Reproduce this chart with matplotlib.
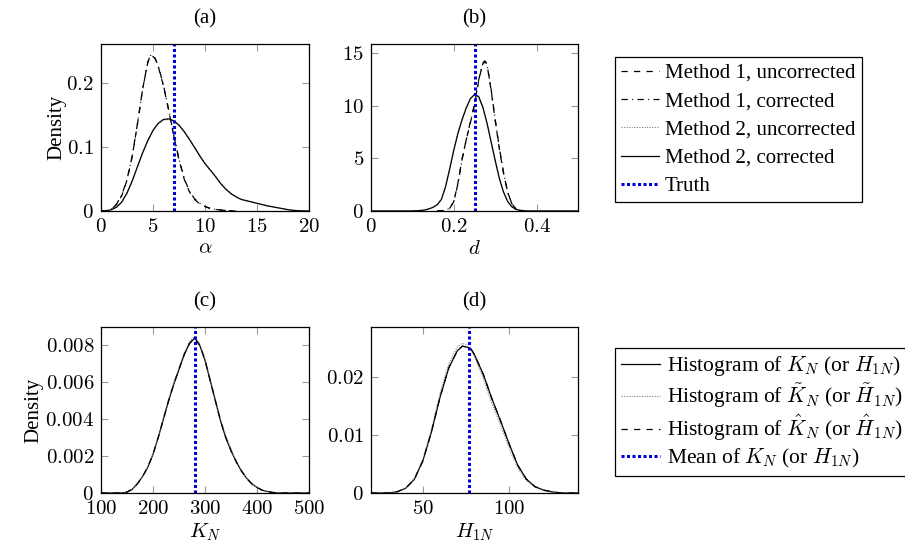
import matplotlib
matplotlib.use('Agg')
import matplotlib.pyplot as plt
from matplotlib.ticker import FuncFormatter, MultipleLocator
from matplotlib.lines import Line2D

plt.rcParams['font.family'] = 'serif'
plt.rcParams['font.serif'] = ['Liberation Serif', 'DejaVu Serif']
plt.rcParams['mathtext.fontset'] = 'cm'
plt.rcParams['font.size'] = 15

# ---- panel (a): alpha ----
a_m1_x = [0, 0.5, 1, 1.5, 2, 2.5, 3, 3.5, 4, 4.5, 4.8, 5.2, 5.5, 6, 6.5, 7, 7.5, 8, 8.5, 9, 9.5, 10, 10.5, 11, 11.5, 12, 12.5, 13]
a_m1_unc = [0, 0.0005, 0.003, 0.01, 0.024, 0.048, 0.085, 0.135, 0.19, 0.233, 0.245, 0.238, 0.226, 0.196, 0.158, 0.117, 0.08, 0.05, 0.03, 0.018, 0.011, 0.007, 0.004, 0.0025, 0.0015, 0.0008, 0.0003, 0]
a_m1_cor = [0, 0.0005, 0.003, 0.011, 0.025, 0.049, 0.086, 0.136, 0.19, 0.232, 0.244, 0.239, 0.227, 0.197, 0.159, 0.118, 0.081, 0.051, 0.031, 0.019, 0.012, 0.007, 0.004, 0.0025, 0.0015, 0.0008, 0.0003, 0]
a_m2_x = [0, 0.5, 1, 1.5, 2, 2.5, 3, 3.5, 4, 4.5, 5, 5.5, 6, 6.5, 7, 7.5, 8, 8.5, 9, 9.5, 10, 10.5, 11, 11.5, 12, 12.5, 13, 13.5, 14, 14.5, 15, 15.5, 16, 16.5, 17, 17.5, 18, 18.5, 19, 19.5, 20]
a_m2_cor = [0, 0.0003, 0.002, 0.006, 0.014, 0.028, 0.047, 0.069, 0.091, 0.11, 0.126, 0.137, 0.143, 0.144, 0.141, 0.134, 0.124, 0.112, 0.099, 0.086, 0.074, 0.064, 0.054, 0.043, 0.034, 0.027, 0.022, 0.018, 0.016, 0.014, 0.012, 0.01, 0.008, 0.0065, 0.005, 0.0035, 0.002, 0.001, 0.0004, 0.0001, 0]
a_m2_unc = [0, 0.0003, 0.002, 0.006, 0.014, 0.028, 0.046, 0.068, 0.09, 0.109, 0.125, 0.136, 0.142, 0.143, 0.141, 0.135, 0.125, 0.113, 0.1, 0.087, 0.075, 0.065, 0.055, 0.044, 0.035, 0.028, 0.022, 0.018, 0.016, 0.014, 0.012, 0.01, 0.008, 0.0065, 0.005, 0.0035, 0.002, 0.001, 0.0004, 0.0001, 0]
a_truth = 7.0

# ---- panel (b): d ----
b_m1_x = [0.16, 0.17, 0.18, 0.19, 0.2, 0.21, 0.22, 0.23, 0.24, 0.25, 0.26, 0.27, 0.275, 0.28, 0.29, 0.3, 0.31, 0.32, 0.33, 0.34, 0.35, 0.36, 0.37]
b_m1_unc = [0, 0.02, 0.08, 0.25, 0.9, 2.7, 5.0, 6.8, 8.4, 10.1, 12.4, 14.1, 14.3, 14.0, 11.5, 8.6, 5.9, 3.6, 1.8, 0.7, 0.2, 0.05, 0]
b_m1_cor = [0, 0.02, 0.08, 0.25, 0.9, 2.6, 4.9, 6.8, 8.5, 10.2, 12.5, 14.0, 14.2, 14.0, 11.6, 8.7, 6.0, 3.7, 1.8, 0.7, 0.2, 0.05, 0]
b_m2_x = [0, 0.08, 0.09, 0.1, 0.11, 0.12, 0.13, 0.14, 0.15, 0.16, 0.17, 0.18, 0.19, 0.2, 0.21, 0.22, 0.23, 0.24, 0.25, 0.26, 0.27, 0.28, 0.29, 0.3, 0.31, 0.32, 0.33, 0.34, 0.35, 0.36, 0.37, 0.38, 0.5]
b_m2_cor = [0, 0, 0, 0.01, 0.02, 0.05, 0.1, 0.2, 0.35, 0.6, 1.1, 2.3, 4.0, 5.8, 7.4, 8.7, 9.8, 10.7, 11.1, 10.9, 9.9, 8.4, 6.6, 4.8, 3.1, 1.8, 0.9, 0.4, 0.15, 0.06, 0.02, 0, 0]
b_m2_unc = [0, 0, 0, 0.01, 0.02, 0.05, 0.1, 0.21, 0.37, 0.63, 1.15, 2.4, 4.1, 5.9, 7.5, 8.8, 9.9, 10.7, 11.0, 10.8, 9.8, 8.3, 6.5, 4.7, 3.0, 1.8, 0.9, 0.4, 0.15, 0.06, 0.02, 0, 0]
b_truth = 0.25

# ---- panel (c): K_N ----
c_x = [100, 140, 150, 160, 170, 180, 190, 200, 210, 220, 230, 240, 250, 260, 270, 280, 290, 300, 310, 320, 330, 340, 350, 360, 370, 380, 390, 400, 410, 420, 430, 440, 500]
c_hist = [0, 0, 0.00005, 0.0002, 0.0005, 0.0009, 0.0014, 0.0021, 0.003, 0.004, 0.005, 0.0059, 0.0067, 0.0075, 0.0081, 0.0084, 0.008, 0.0072, 0.0061, 0.005, 0.0039, 0.003, 0.0023, 0.0017, 0.0012, 0.0008, 0.0005, 0.0003, 0.00015, 0.00008, 0.00003, 0, 0]
c_tilde = [0, 0, 0.00005, 0.0002, 0.0005, 0.0009, 0.0014, 0.0021, 0.003, 0.0041, 0.0051, 0.006, 0.0068, 0.0076, 0.0082, 0.0085, 0.0081, 0.0073, 0.0062, 0.0051, 0.004, 0.0031, 0.0024, 0.0017, 0.0012, 0.0008, 0.0005, 0.0003, 0.00015, 0.00008, 0.00003, 0, 0]
c_hat = [0, 0, 0.00005, 0.0002, 0.0005, 0.0009, 0.0014, 0.0021, 0.003, 0.004, 0.005, 0.0059, 0.0067, 0.0075, 0.0081, 0.0084, 0.008, 0.0072, 0.0061, 0.005, 0.0039, 0.003, 0.0023, 0.0017, 0.0012, 0.0008, 0.0005, 0.0003, 0.00015, 0.00008, 0.00003, 0, 0]
c_mean = 280

# ---- panel (d): H_1N ----
d_x = [20, 30, 35, 40, 45, 50, 55, 60, 65, 70, 73, 76, 78, 80, 85, 90, 95, 100, 105, 110, 115, 120, 125, 130, 140]
d_hist = [0, 0, 0.0002, 0.0008, 0.0023, 0.0055, 0.0105, 0.0165, 0.0215, 0.0245, 0.0253, 0.0251, 0.0248, 0.0238, 0.0205, 0.0163, 0.0125, 0.0085, 0.0048, 0.0024, 0.0011, 0.0005, 0.0002, 0, 0]
d_tilde = [0, 0, 0.0002, 0.0009, 0.0025, 0.0058, 0.011, 0.0172, 0.0222, 0.0252, 0.0258, 0.0254, 0.0247, 0.0234, 0.0198, 0.0155, 0.0117, 0.0078, 0.0043, 0.0021, 0.001, 0.0004, 0.0001, 0, 0]
d_hat = [0, 0, 0.0002, 0.0008, 0.0023, 0.0055, 0.0105, 0.0165, 0.0215, 0.0245, 0.0253, 0.0251, 0.0248, 0.0238, 0.0205, 0.0163, 0.0125, 0.0085, 0.0048, 0.0024, 0.0011, 0.0005, 0.0002, 0, 0]
d_mean = 76.5

# line styles
dashed = dict(color='black', lw=0.9, linestyle=(0, (5, 5)))
dashdot = dict(color='black', lw=0.9, linestyle=(0, (5, 3.5, 0.8, 3.5)))
dotted = dict(color='0.5', lw=0.8, linestyle=(0, (1, 1.3)))
solid = dict(color='black', lw=0.9, linestyle='-')
truth = dict(color='#0000dd', lw=2.2, linestyle=(0, (1, 0.8)))

fig = plt.figure(figsize=(9.05, 5.52), dpi=100)
ax_a = fig.add_axes([0.1116, 0.6178, 0.2298, 0.3025])
ax_b = fig.add_axes([0.4100, 0.6178, 0.2287, 0.3025])
ax_c = fig.add_axes([0.1116, 0.1069, 0.2298, 0.3007])
ax_d = fig.add_axes([0.4100, 0.1069, 0.2287, 0.3007])

ax_a.plot(a_m1_x, a_m1_unc, **dashed)
ax_a.plot(a_m1_x, a_m1_cor, **dashdot)
ax_a.plot(a_m2_x, a_m2_unc, **dotted)
ax_a.plot(a_m2_x, a_m2_cor, **solid)
ax_a.axvline(a_truth, **truth)
ax_a.set_xlim(0, 20)
ax_a.set_ylim(0, 0.261)
ax_a.xaxis.set_major_locator(MultipleLocator(5))
ax_a.yaxis.set_major_locator(MultipleLocator(0.1))

ax_b.plot(b_m1_x, b_m1_unc, **dashed)
ax_b.plot(b_m1_x, b_m1_cor, **dashdot)
ax_b.plot(b_m2_x, b_m2_unc, **dotted)
ax_b.plot(b_m2_x, b_m2_cor, **solid)
ax_b.axvline(b_truth, **truth)
ax_b.set_xlim(0, 0.5)
ax_b.set_ylim(0, 15.9)
ax_b.xaxis.set_major_locator(MultipleLocator(0.2))
ax_b.yaxis.set_major_locator(MultipleLocator(5))

ax_c.plot(c_x, c_hist, **solid)
ax_c.plot(c_x, c_tilde, **dotted)
ax_c.plot(c_x, c_hat, **dashed)
ax_c.axvline(c_mean, **truth)
ax_c.set_xlim(100, 500)
ax_c.set_ylim(0, 0.009)
ax_c.xaxis.set_major_locator(MultipleLocator(100))
ax_c.yaxis.set_major_locator(MultipleLocator(0.002))

ax_d.plot(d_x, d_hist, **solid)
ax_d.plot(d_x, d_tilde, **dotted)
ax_d.plot(d_x, d_hat, **dashed)
ax_d.axvline(d_mean, **truth)
ax_d.set_xlim(20, 140)
ax_d.set_ylim(0, 0.0286)
ax_d.xaxis.set_major_locator(MultipleLocator(50))
ax_d.yaxis.set_major_locator(MultipleLocator(0.01))

fmt = FuncFormatter(lambda v, p: '$%g$' % round(v, 6))
for ax, title, xl in [(ax_a, '(a)', r'$\alpha$'), (ax_b, '(b)', r'$d$'),
                      (ax_c, '(c)', r'$K_N$'), (ax_d, '(d)', r'$H_{1N}$')]:
    ax.set_title(title, pad=15, fontsize=15)
    ax.set_xlabel(xl, fontsize=15, labelpad=2)
    ax.xaxis.set_major_formatter(fmt)
    ax.yaxis.set_major_formatter(fmt)
    ax.tick_params(direction='in', length=5, width=0.8, color='0.6',
                   top=True, right=True, labelsize=15, pad=5)
    for s in ax.spines.values():
        s.set_linewidth(0.9)
        s.set_color('black')

ax_a.set_ylabel('Density', fontsize=15, labelpad=0)
ax_c.set_ylabel('Density', fontsize=15, labelpad=1)

h1 = [Line2D([], [], **dashed), Line2D([], [], **dashdot), Line2D([], [], **dotted),
      Line2D([], [], **solid), Line2D([], [], **truth)]
lab1 = ['Method 1, uncorrected', 'Method 1, corrected', 'Method 2, uncorrected',
        'Method 2, corrected', 'Truth']
h2 = [Line2D([], [], **solid), Line2D([], [], **dotted), Line2D([], [], **dashed),
      Line2D([], [], **truth)]
lab2 = [r'Histogram of $K_N$ (or $H_{1N}$)', r'Histogram of $\tilde{K}_N$ (or $\tilde{H}_{1N}$)',
        r'Histogram of $\hat{K}_N$ (or $\hat{H}_{1N}$)', r'Mean of $K_N$ (or $H_{1N}$)']

for h, lab, y, sp, fs in [(h1, lab1, 0.8967, 0.42, 15), (h2, lab2, 0.3696, 0.15, 15.5)]:
    leg = fig.legend(h, lab, loc='upper left', bbox_to_anchor=(0.6796, y),
                     borderaxespad=0, fancybox=False, framealpha=1, edgecolor='black',
                     fontsize=fs, handlelength=1.8, handletextpad=0.3,
                     labelspacing=sp, borderpad=0.3)
    leg.get_frame().set_linewidth(0.9)

plt.savefig('out.png', dpi=100)
